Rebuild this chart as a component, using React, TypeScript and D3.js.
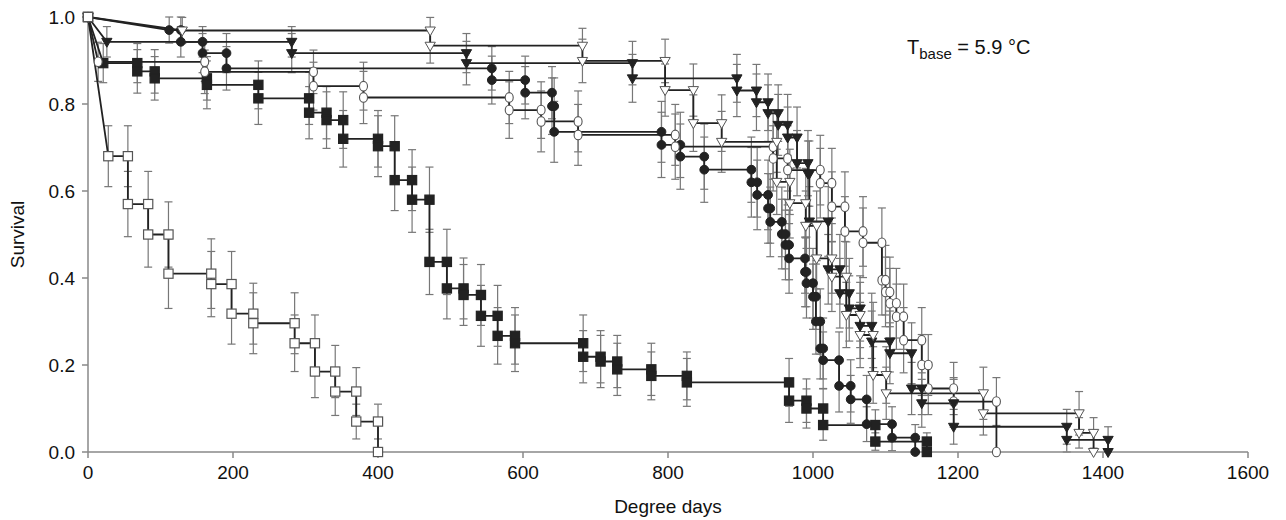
import React from 'react';
import * as d3 from 'd3';

// each step: [degree days, survival after the drop, error half-width]
const openSquares = [
  [28, 0.68, 0.07], [55, 0.57, 0.075], [83, 0.50, 0.075], [111, 0.41, 0.08], [170, 0.386, 0.075],
  [198, 0.318, 0.07], [228, 0.296, 0.07], [285, 0.25, 0.065], [313, 0.185, 0.06], [341, 0.139, 0.055],
  [370, 0.07, 0.04], [400, 0, 0],
];
const blackSquares = [
  [21, 0.894, 0.045], [68, 0.875, 0.05], [92, 0.859, 0.05], [164, 0.844, 0.055], [235, 0.813, 0.06],
  [305, 0.78, 0.06], [329, 0.763, 0.065], [352, 0.72, 0.065], [400, 0.703, 0.07], [423, 0.625, 0.07],
  [447, 0.58, 0.075], [471, 0.437, 0.075], [495, 0.376, 0.07], [518, 0.361, 0.07], [542, 0.313, 0.07],
  [565, 0.267, 0.065], [589, 0.25, 0.065], [683, 0.219, 0.06], [707, 0.208, 0.06], [730, 0.19, 0.06],
  [777, 0.175, 0.055], [826, 0.16, 0.055], [967, 0.118, 0.05], [991, 0.1, 0.045], [1014, 0.062, 0.035],
  [1086, 0.024, 0.02], [1157, 0, 0],
];
const blackCircles = [
  [112, 0.97, 0.03], [128, 0.943, 0.035], [158, 0.917, 0.045], [191, 0.882, 0.05], [557, 0.855, 0.055],
  [603, 0.826, 0.06], [640, 0.795, 0.065], [643, 0.736, 0.07], [791, 0.706, 0.075], [817, 0.679, 0.075],
  [850, 0.649, 0.075], [915, 0.62, 0.08], [923, 0.591, 0.08], [938, 0.56, 0.08], [941, 0.529, 0.08],
  [957, 0.501, 0.08], [962, 0.476, 0.08], [967, 0.445, 0.08], [989, 0.414, 0.08], [991, 0.388, 0.08],
  [1000, 0.357, 0.075], [1004, 0.30, 0.075], [1010, 0.238, 0.07], [1014, 0.211, 0.065], [1036, 0.152, 0.06],
  [1052, 0.121, 0.055], [1074, 0.064, 0.04], [1109, 0.033, 0.03], [1141, 0, 0],
];
const openDiamonds = [
  [14, 0.897, 0.045], [161, 0.874, 0.05], [311, 0.841, 0.055], [380, 0.815, 0.06], [581, 0.786, 0.065],
  [625, 0.76, 0.07], [676, 0.729, 0.07], [810, 0.702, 0.075], [945, 0.675, 0.075], [965, 0.648, 0.08],
  [1010, 0.618, 0.08], [1026, 0.564, 0.08], [1044, 0.507, 0.08], [1069, 0.481, 0.08], [1095, 0.395, 0.08],
  [1100, 0.368, 0.08], [1106, 0.342, 0.08], [1115, 0.311, 0.075], [1125, 0.257, 0.075], [1150, 0.2, 0.07],
  [1159, 0.146, 0.06], [1194, 0.116, 0.055], [1253, 0, 0],
];
const blackTriangles = [
  [26, 0.943, 0.035], [281, 0.917, 0.045], [522, 0.894, 0.05], [751, 0.859, 0.055], [895, 0.831, 0.06],
  [922, 0.804, 0.065], [938, 0.779, 0.065], [952, 0.752, 0.07], [965, 0.723, 0.07], [978, 0.664, 0.075],
  [993, 0.64, 0.075], [995, 0.53, 0.08], [1021, 0.42, 0.08], [1037, 0.365, 0.08], [1050, 0.33, 0.075],
  [1065, 0.29, 0.075], [1081, 0.254, 0.07], [1106, 0.227, 0.07], [1136, 0.146, 0.06], [1150, 0.112, 0.055],
  [1194, 0.058, 0.04], [1350, 0.028, 0.03], [1407, 0, 0],
];
const openTriangles = [
  [130, 0.969, 0.03], [472, 0.934, 0.04], [682, 0.899, 0.05], [796, 0.832, 0.06], [835, 0.756, 0.065],
  [874, 0.713, 0.07], [950, 0.621, 0.075], [968, 0.572, 0.08], [990, 0.52, 0.08], [1005, 0.445, 0.08],
  [1026, 0.403, 0.08], [1046, 0.315, 0.075], [1065, 0.269, 0.075], [1083, 0.177, 0.065], [1101, 0.135, 0.06],
  [1235, 0.089, 0.05], [1367, 0.044, 0.035], [1387, 0, 0],
];

const xTicks = [0, 200, 400, 600, 800, 1000, 1200, 1400, 1600];
const yTicks = [0, 0.2, 0.4, 0.6, 0.8, 1.0];

const series = [
  { name: 'openSquares', steps: openSquares, marker: 'square', fill: '#fff' },
  { name: 'blackSquares', steps: blackSquares, marker: 'square', fill: '#222' },
  { name: 'blackCircles', steps: blackCircles, marker: 'circle', fill: '#222' },
  { name: 'openDiamonds', steps: openDiamonds, marker: 'diamond', fill: '#fff' },
  { name: 'blackTriangles', steps: blackTriangles, marker: 'triangle', fill: '#222' },
  { name: 'openTriangles', steps: openTriangles, marker: 'triangle', fill: '#fff' },
];

const W = 1286;
const H = 520;
const margin = { top: 17, right: 38, bottom: 68, left: 88 };
const font = '"Liberation Sans", Arial, Helvetica, sans-serif';

// turn the steps into the plotted corner points
function cornerPoints(steps) {
  const pts = [{ t: 0, s: 1, e: 0 }];
  steps.forEach((d, i) => {
    if (i > 0) pts.push({ t: d[0], s: steps[i - 1][1], e: steps[i - 1][2] });
    pts.push({ t: d[0], s: d[1], e: d[2] });
  });
  return pts;
}

const triPath = d3.symbol().type(d3.symbolTriangle).size(46)();

function Marker({ kind, fill, x, y }) {
  const stroke = fill === '#fff' ? '#555' : '#222';
  if (kind === 'square') {
    return <rect x={x - 4.6} y={y - 4.6} width={9.2} height={9.2} fill={fill} stroke={stroke} strokeWidth={1.2} />;
  }
  if (kind === 'circle') {
    return <circle cx={x} cy={y} r={4.4} fill={fill} stroke={stroke} strokeWidth={1} />;
  }
  if (kind === 'diamond') {
    return <ellipse cx={x} cy={y} rx={4} ry={4.8} fill={fill} stroke={stroke} strokeWidth={1.1} />;
  }
  return <path d={triPath} transform={`translate(${x},${y - 0.5}) rotate(180)`} fill={fill} stroke={stroke} strokeWidth={1} />;
}

export default function App() {
  const x = d3.scaleLinear().domain([0, 1600]).range([margin.left, W - margin.right]);
  const y = d3.scaleLinear().domain([0, 1]).range([H - margin.bottom, margin.top]);
  const line = d3.line().x(d => x(d.t)).y(d => y(d.s));

  const prepared = series.map(s => ({ ...s, pts: cornerPoints(s.steps) }));

  return (
    <svg width={W} height={H} style={{ position: 'absolute', left: 0, top: 0, background: '#fff' }} fontFamily={font}>
      {/* error bars */}
      {prepared.map(s => (
        <g key={s.name + '-err'} stroke="#777" strokeWidth={1.2} fill="none">
          {s.pts.filter(p => p.e > 0).map((p, i) => {
            const px = x(p.t);
            const y1 = y(Math.min(p.s + p.e, 1.02));
            const y2 = y(Math.max(p.s - p.e, 0));
            return (
              <g key={i}>
                <line x1={px} x2={px} y1={y1} y2={y2} />
                <line x1={px - 4} x2={px + 4} y1={y1} y2={y1} />
                <line x1={px - 4} x2={px + 4} y1={y2} y2={y2} />
              </g>
            );
          })}
        </g>
      ))}

      {/* axes */}
      <g stroke="#888" strokeWidth={1.5}>
        <line x1={x(0)} x2={x(0)} y1={y(1)} y2={y(0)} />
        <line x1={x(0)} x2={x(1600)} y1={y(0)} y2={y(0)} />
        {yTicks.map(t => <line key={'yt' + t} x1={x(0) - 6} x2={x(0)} y1={y(t)} y2={y(t)} />)}
        {xTicks.map(t => <line key={'xt' + t} x1={x(t)} x2={x(t)} y1={y(0)} y2={y(0) + 6} />)}
      </g>

      {/* step lines */}
      {prepared.map(s => (
        <path key={s.name + '-line'} d={line(s.pts)} fill="none" stroke="#222" strokeWidth={1.8} />
      ))}

      {/* markers */}
      {prepared.map(s => (
        <g key={s.name + '-mk'}>
          {s.pts.map((p, i) => <Marker key={i} kind={s.marker} fill={s.fill} x={x(p.t)} y={y(p.s)} />)}
        </g>
      ))}
      <Marker kind="square" fill="#fff" x={x(0)} y={y(1)} />

      {/* tick labels */}
      <g fontSize={19} fill="#111">
        {yTicks.map(t => (
          <text key={'yl' + t} x={x(0) - 13} y={y(t)} dy="0.35em" textAnchor="end">{t.toFixed(1)}</text>
        ))}
        {xTicks.map(t => (
          <text key={'xl' + t} x={x(t)} y={y(0) + 27} textAnchor="middle">{t}</text>
        ))}
      </g>

      <text x={(x(0) + x(1600)) / 2} y={H - 7} textAnchor="middle" fontSize={19} fill="#111">Degree days</text>
      <text transform={`translate(24,${(y(0) + y(1)) / 2}) rotate(-90)`} textAnchor="middle" fontSize={19} fill="#111">Survival</text>

      <text x={907} y={54} fontSize={20} fill="#111">
        T<tspan fontSize={15} dy={5}>base</tspan><tspan dy={-5}> = 5.9 °C</tspan>
      </text>
    </svg>
  );
}
